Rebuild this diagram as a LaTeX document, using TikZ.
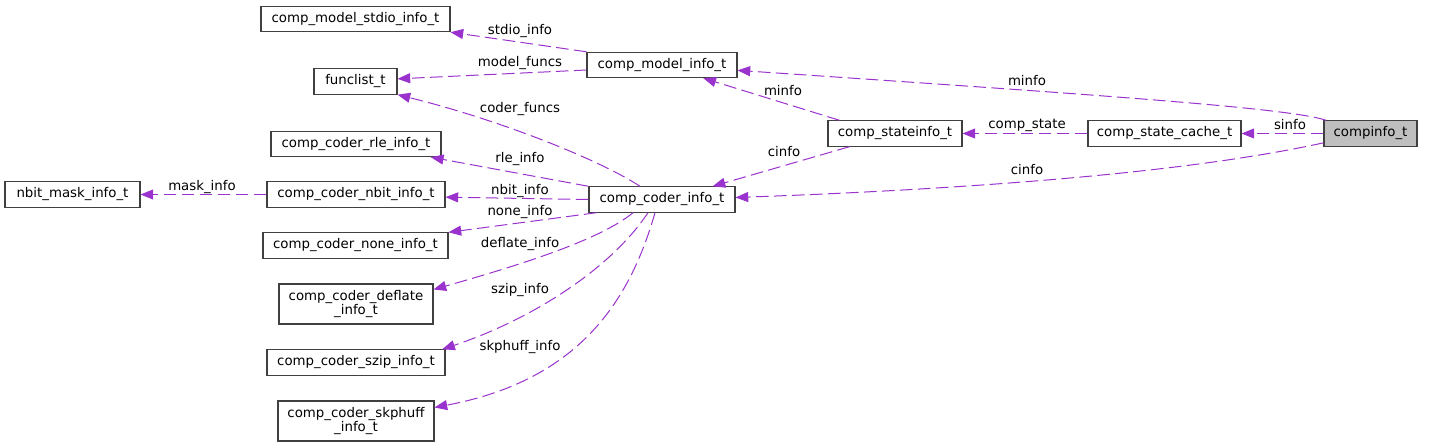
\documentclass[tikz,border=0pt]{standalone}
\usepackage{fontspec}
\setmainfont{DejaVu Sans}
\usetikzlibrary{arrows.meta}
\definecolor{relcol}{HTML}{9A32CD}
\definecolor{maincol}{HTML}{BFBFBF}
\tikzset{
  cls/.style={draw=black!75,line width=0.8pt,fill=white,inner xsep=0pt,inner ysep=1pt,
    minimum height=19pt,minimum width=#1*0.75pt,align=center,font=\fontsize{10}{10.5}\selectfont},
  rel/.style={draw=relcol,line width=0.75pt,dash pattern=on 9.5pt off 4pt,
    -{Triangle[length=9.5pt,width=7.5pt]}},
  lbl/.style={inner sep=0pt,font=\fontsize{10}{12}\selectfont},
}
\begin{document}
\begin{tikzpicture}[x=0.75pt,y=-0.75pt]
  \useasboundingbox (0,0) rectangle (1432,447);
  % classes
  \node[cls=189] (stdio) at (355.5,19) {comp\_model\_stdio\_info\_t};
  \node[cls=83] (fl) at (355.5,81.5) {funclist\_t};
  \node[cls=170] (rle) at (356,144) {comp\_coder\_rle\_info\_t};
  \node[cls=135] (nm) at (72.5,194.5) {nbit\_mask\_info\_t};
  \node[cls=178] (nbit) at (356,194.5) {comp\_coder\_nbit\_info\_t};
  \node[cls=185] (none) at (355.5,245.5) {comp\_coder\_none\_info\_t};
  \node[cls=154,minimum height=30pt] (df) at (356,304) {comp\_coder\_deflate\\\_info\_t};
  \node[cls=178] (szp) at (356,362.5) {comp\_coder\_szip\_info\_t};
  \node[cls=156,minimum height=30pt] (skp) at (356,421) {comp\_coder\_skphuff\\\_info\_t};
  \node[cls=150] (cmi) at (662,65) {comp\_model\_info\_t};
  \node[cls=146] (cci) at (662,199.5) {comp\_coder\_info\_t};
  \node[cls=134] (csi) at (895,133.5) {comp\_stateinfo\_t};
  \node[cls=153] (csc) at (1164.5,133.5) {comp\_state\_cache\_t};
  \node[cls=93,fill=maincol] (ci) at (1370.5,133.5) {compinfo\_t};
  % members of compinfo_t
  \draw[rel] ([xshift=2pt]ci.north west) .. controls (1290,108) and (1100,95) .. ([yshift=-4pt]cmi.east);
  \draw[rel] (ci.west) -- (csc.east);
  \draw[rel] ([yshift=-7pt]ci.west) .. controls (1200,170) and (1000,188) .. ([yshift=1.5pt]cci.east);
  \node[lbl] (lminfo) at (1027,81) {minfo};
  \node[lbl] (lsinfo) at (1290,125) {sinfo};
  \node[lbl] (lcinfo) at (1027,170) {cinfo};
  % state
  \draw[rel] (csc.west) -- (csi.east);
  \draw[rel] ([xshift=9pt]csi.north west) -- ([xshift=31pt]cmi.south);
  \draw[rel] ([xshift=16.5pt]csi.south west) -- ([xshift=38pt]cci.north);
  \node[lbl] (lstate) at (1027,125) {comp\_state};
  \node[lbl] (lsminfo) at (783,91) {minfo};
  \node[lbl] (lscinfo) at (784,152) {cinfo};
  % model
  \draw[rel] (cmi.north west) -- (stdio.south east);
  \draw[rel] ([yshift=-3.75pt]cmi.west) -- ([yshift=2pt]fl.east);
  \node[lbl] (lstdio) at (520,31) {stdio\_info};
  \node[lbl] (lmfun) at (520,63) {model\_funcs};
  % coder
  \draw[rel] ([xshift=-16.5pt]cci.north) .. controls (600,160) and (500,120) .. (fl.south east);
  \draw[rel] (cci.north west) -- ([xshift=-8pt]rle.south east);
  \draw[rel] (cci.west) -- ([yshift=-2pt]nbit.east);
  \draw[rel] (nbit.west) -- (nm.east);
  \draw[rel] ([xshift=6pt]cci.south west) -- (none.north east);
  \draw[rel] ([xshift=-21.75pt]cci.south) .. controls (600,240) and (520,265) .. ([yshift=-4.5pt]df.north east);
  \draw[rel] ([xshift=-10.5pt]cci.south) .. controls (610,270) and (530,320) .. ([xshift=-2.5pt]szp.north east);
  \draw[rel] ([xshift=-5.25pt]cci.south) .. controls (630,300) and (580,380) .. ([yshift=-5.25pt]skp.north east);
  \node[lbl] (lcfun) at (520,109) {coder\_funcs};
  \node[lbl] (lrle) at (520,159) {rle\_info};
  \node[lbl] (lnbit) at (520,191) {nbit\_info};
  \node[lbl] (lmask) at (202,187) {mask\_info};
  \node[lbl] (lnone) at (520,212) {none\_info};
  \node[lbl] (ldef) at (520,244) {deflate\_info};
  \node[lbl] (lszip) at (520,290) {szip\_info};
  \node[lbl] (lskp) at (520,347) {skphuff\_info};
\end{tikzpicture}
\end{document}
